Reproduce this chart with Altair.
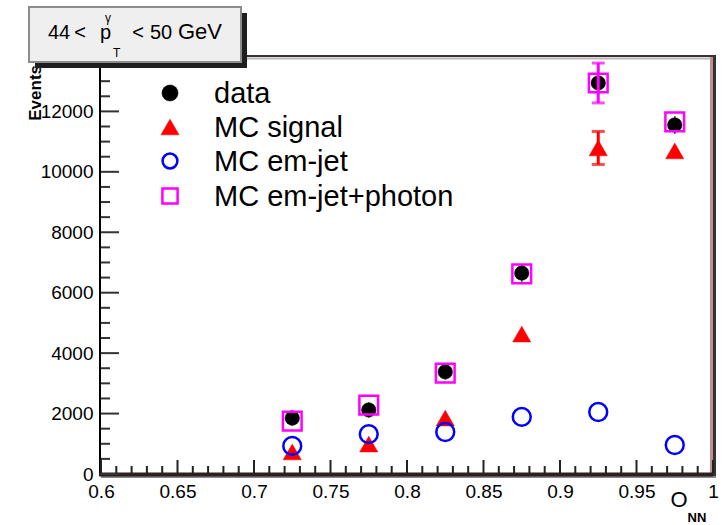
import altair as alt
import pandas as pd

# O_NN bin centres
o_nn = [0.725, 0.775, 0.825, 0.875, 0.925, 0.975]

# events per bin and symmetric uncertainties
data_vals = [1850, 2120, 3380, 6650, 12940, 11550]
data_err = [250, 250, 250, 300, 350, 300]

sig_vals = [730, 990, 1850, 4630, 10790, 10690]
sig_err = [200, 200, 200, 250, 546, 250]

emjet_vals = [930, 1320, 1390, 1890, 2050, 960]
emjet_err = [100, 100, 100, 100, 100, 100]

emjet_ph_vals = [1750, 2280, 3340, 6620, 12940, 11650]
emjet_ph_err = [200, 200, 200, 380, 660, 250]

series_names = ["data", "MC signal", "MC em-jet", "MC em-jet+photon"]

# axis tick positions
x_major = [0.6, 0.65, 0.7, 0.75, 0.8, 0.85, 0.9, 0.95, 1.0]
x_minor = [round(0.6 + 0.01 * i, 2) for i in range(41) if i % 5]
y_major = [0, 2000, 4000, 6000, 8000, 10000, 12000]
y_minor = [500 * i for i in range(28) if i % 4]

W, H = 612, 417
FONT = "Liberation Sans"

xscale = alt.Scale(domain=[0.6, 1.0], nice=False, zero=False)
yscale = alt.Scale(domain=[0, 13800], nice=False)

# the same axis definition is used by every layer so that they merge cleanly
x_axis = alt.Axis(values=x_major, format="~g", title=None, domain=False, ticks=False,
                  grid=False, labelFont=FONT, labelFontSize=19, labelColor="#000000",
                  labelPadding=8, labelFlush=False, labelOverlap=False)
y_axis = alt.Axis(values=y_major, format="d", title=None, domain=False, ticks=False,
                  grid=False, labelFont=FONT, labelFontSize=19, labelColor="#000000",
                  labelPadding=8, labelFlush=False, labelOverlap=False)


def X(field):
    return alt.X(field, scale=xscale, axis=x_axis)


def Y(field):
    return alt.Y(field, scale=yscale, axis=y_axis)


def frame_df(vals, errs):
    return pd.DataFrame({
        "x": o_nn,
        "v": vals,
        "err": errs,
        "lo": [v - e for v, e in zip(vals, errs)],
        "hi": [v + e for v, e in zip(vals, errs)],
    })


def one(text=""):
    return pd.DataFrame({"t": [text]})


# frame of the pad
def hrule(y, x1, x2, color, w):
    return alt.Chart(one()).mark_rule(color=color, strokeWidth=w).encode(
        x=alt.value(x1), x2=alt.value(x2), y=alt.value(y))


def vrule(x, y1, y2, color, w):
    return alt.Chart(one()).mark_rule(color=color, strokeWidth=w).encode(
        x=alt.value(x), y=alt.value(y1), y2=alt.value(y2))


frame = [
    hrule(-1, 0, W + 3, "#3b2f2f", 2),
    hrule(1.5, 0, W, "#b8b8b8", 2),
    vrule(W - 1.5, 0, H, "#c09090", 3),
    vrule(W + 1.5, -1, H + 3, "#333333", 3),
    hrule(H + 3, 0, W + 3, "#8a8a8a", 2),
    vrule(-1, 5, H + 1, "#000000", 2),
    hrule(H + 0.5, -2, W, "#2e2020", 4),
]


# inward ticks
def xticks(vals, length, w):
    return alt.Chart(pd.DataFrame({"v": vals})).mark_rule(color="#222222", strokeWidth=w).encode(
        x=X("v:Q"), y=alt.value(H - 1), y2=alt.value(H - 1 - length))


def yticks(vals, length, w):
    return alt.Chart(pd.DataFrame({"v": vals})).mark_rule(color="#333333", strokeWidth=w).encode(
        y=Y("v:Q"), x=alt.value(0), x2=alt.value(length))


ticks = [xticks(x_major, 13, 2), xticks(x_minor, 7, 2),
         yticks(y_major, 18, 2), yticks(y_minor, 9, 2)]


def series(vals, errs, color, shape, size, filled, bar_w, cap, min_err):
    base = alt.Chart(frame_df(vals, errs))
    # error bars only where they reach beyond the marker
    big = base.transform_filter(alt.datum.err > min_err)
    bar = big.mark_rule(color=color, strokeWidth=bar_w).encode(
        x=X("x:Q"), y=Y("lo:Q"), y2="hi:Q")
    cap_lo = big.mark_tick(color=color, orient="horizontal", size=cap, thickness=bar_w).encode(
        x=X("x:Q"), y=Y("lo:Q"))
    cap_hi = big.mark_tick(color=color, orient="horizontal", size=cap, thickness=bar_w).encode(
        x=X("x:Q"), y=Y("hi:Q"))
    if filled:
        pts = base.mark_point(shape=shape, size=size, filled=True, fill=color,
                              stroke=color, strokeWidth=0.5, opacity=1)
    else:
        pts = base.mark_point(shape=shape, size=size, filled=False, stroke=color,
                              strokeWidth=2.5, opacity=1)
    pts = pts.encode(x=X("x:Q"), y=Y("v:Q"))
    return [bar, cap_lo, cap_hi, pts]


def data_series(vals, errs):
    base = alt.Chart(frame_df(vals, errs))
    bar = base.mark_rule(color="#555555", strokeWidth=1.5).encode(
        x=X("x:Q"), y=Y("lo:Q"), y2="hi:Q")
    pts = base.mark_point(shape="circle", size=210, filled=True, fill="#000000",
                          stroke="#000000", strokeWidth=0.5, opacity=1).encode(
        x=X("x:Q"), y=Y("v:Q"))
    return [bar, pts]


layers_pts = []
layers_pts += series(sig_vals, sig_err, "#ff0000", "triangle-up", 330, True, 3, 13, 400)
layers_pts += series(emjet_vals, emjet_err, "#0000ff", "circle", 320, False, 2, 10, 400)
layers_pts += data_series(data_vals, data_err)
layers_pts += series(emjet_ph_vals, emjet_ph_err, "#ff00ff", "square", 350, False, 3, 13, 400)

# legend
legend = []
legend_styles = [
    ("#000000", "circle", 260, True),
    ("#ff0000", "triangle-up", 330, True),
    ("#0000ff", "circle", 220, False),
    ("#ff00ff", "square", 230, False),
]
legend_y = [36, 70, 104, 139]
for name, (col, shp, sz, fil), ly in zip(series_names, legend_styles, legend_y):
    if fil:
        m = alt.Chart(one()).mark_point(shape=shp, size=sz, filled=True, fill=col,
                                         stroke=col, strokeWidth=0.5, opacity=1)
    else:
        m = alt.Chart(one()).mark_point(shape=shp, size=sz, filled=False, stroke=col,
                                         strokeWidth=2.5, opacity=1)
    legend.append(m.encode(x=alt.value(69), y=alt.value(ly)))
    legend.append(alt.Chart(one(name)).mark_text(
        font=FONT, fontSize=29, align="left", baseline="middle", color="#000000").encode(
        x=alt.value(113), y=alt.value(ly + 1), text="t:N"))

# axis titles
y_title = alt.Chart(one("Events")).mark_text(
    font=FONT, fontSize=17, fontWeight="bold", angle=270, align="right",
    baseline="middle", color="#000000").encode(x=alt.value(-65), y=alt.value(8), text="t:N")

x_title_o = alt.Chart(one("O")).mark_text(
    font=FONT, fontSize=22, align="center", baseline="middle", color="#000000").encode(
    x=alt.value(578), y=alt.value(443), text="t:N")
x_title_nn = alt.Chart(one("NN")).mark_text(
    font=FONT, fontSize=13, fontWeight="bold", align="center", baseline="middle",
    color="#000000").encode(x=alt.value(596), y=alt.value(461), text="t:N")

# pT range box with shadow
box_shadow = alt.Chart(one()).mark_rect(color="#1e1e1e").encode(
    x=alt.value(-66), x2=alt.value(146), y=alt.value(-44), y2=alt.value(11))
box = alt.Chart(one()).mark_rect(fill="#efefef", stroke="#8c8c8c", strokeWidth=2).encode(
    x=alt.value(-72), x2=alt.value(140), y=alt.value(-50), y2=alt.value(5))


def label(text, x, y, size, align="left", baseline="alphabetic"):
    return alt.Chart(one(text)).mark_text(
        font=FONT, fontSize=size, align=align, baseline=baseline, color="#000000").encode(
        x=alt.value(x), y=alt.value(y), text="t:N")


box_text = [
    label("44", -53, -18, 20),
    label("<", -21, -18, 20, align="center"),
    label("p", -1, -18, 20),
    label("γ", 4, -35, 12),
    label("T", 12, 0, 12),
    label("<", 37, -18, 20, align="center"),
    label("50", 49, -18, 20),
    label("GeV", 77, -18, 22),
]

chart = alt.layer(
    *frame, *ticks, *layers_pts, *legend,
    y_title, x_title_o, x_title_nn, box_shadow, box, *box_text,
).properties(
    width=W, height=H,
    padding={"left": 101, "top": 57, "right": 14, "bottom": 51},
    autosize=alt.AutoSizeParams(type="none"),
    background="#ffffff",
).configure_view(stroke=None)

chart.save("out.html", embed_options={"renderer": "svg", "actions": False})
